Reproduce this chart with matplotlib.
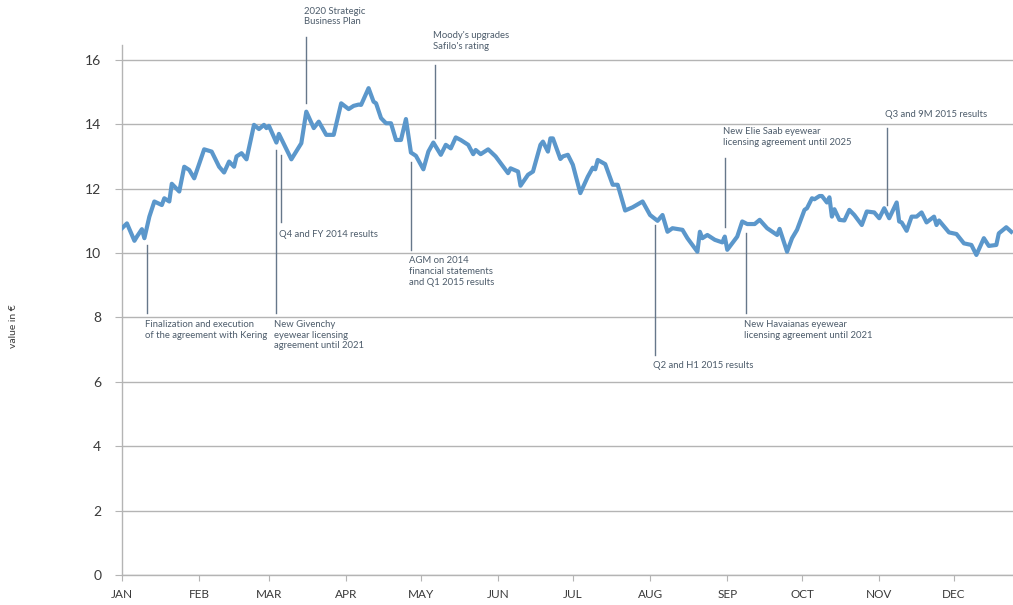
import numpy as np
import matplotlib
matplotlib.use("Agg")
import matplotlib.pyplot as plt

plt.rcParams["font.family"] = ["Lato", "DejaVu Sans"]

# 2015 share price, day of year -> value in EUR
days = [0, 2, 5, 6, 8, 9, 11, 13, 16, 17, 19, 20, 23, 25, 27, 29, 33, 36, 39, 41,
        43, 45, 46, 48, 50, 53, 55, 57, 58, 59, 62, 63, 68, 72, 74, 77, 79, 82, 85,
        88, 91, 93, 95, 96, 99, 101, 102, 104, 106, 108, 110, 112, 114, 116, 118,
        121, 123, 125, 128, 130, 132, 134, 136, 139, 141, 142, 144, 147, 150, 152,
        155, 156, 159, 160, 163, 165, 168, 169, 171, 172, 173, 176, 177, 179, 181,
        184, 187, 189, 190, 191, 194, 197, 199, 202, 205, 209, 212, 215, 217, 219,
        221, 225, 227, 231, 232, 233, 235, 238, 241, 242, 243, 247, 249, 251, 254,
        256, 259, 263, 264, 267, 269, 271, 274, 275, 277, 278, 280, 281, 283, 284,
        285, 286, 288, 290, 292, 294, 297, 299, 302, 304, 306, 308, 311, 312, 313,
        315, 317, 319, 321, 323, 326, 327, 328, 332, 335, 338, 341, 343, 346, 348,
        351, 352, 355, 357]
price = [10.77, 10.92, 10.38, 10.51, 10.74, 10.46, 11.13, 11.60, 11.49, 11.70,
         11.60, 12.15, 11.91, 12.68, 12.58, 12.32, 13.22, 13.15, 12.68, 12.50,
         12.84, 12.68, 13.00, 13.10, 12.91, 13.98, 13.85, 13.98, 13.88, 13.95,
         13.43, 13.70, 12.91, 13.41, 14.39, 13.88, 14.08, 13.67, 13.67,
         14.65, 14.47, 14.57, 14.61, 14.60, 15.12, 14.70, 14.65, 14.19, 14.03,
         14.03, 13.51, 13.51, 14.16, 13.12, 13.02,
         12.60, 13.15, 13.43, 13.05, 13.36, 13.25, 13.59, 13.51, 13.36, 13.07,
         13.20, 13.07, 13.22, 13.00, 12.79,
         12.48, 12.63, 12.53, 12.09, 12.43, 12.53, 13.36, 13.46, 13.15, 13.56,
         13.56, 12.92, 13.00, 13.05, 12.74,
         11.86, 12.37, 12.65, 12.60, 12.89, 12.76, 12.12, 12.12, 11.32, 11.42,
         11.60, 11.18, 11.00, 11.18, 10.66,
         10.77, 10.72, 10.46, 10.04, 10.66, 10.46, 10.56, 10.41, 10.33, 10.51,
         10.10, 10.51, 10.98, 10.90, 10.90,
         11.03, 10.77, 10.56, 10.75, 10.04, 10.46, 10.72, 11.34, 11.39, 11.70,
         11.67, 11.77, 11.77, 11.57, 11.73,
         11.13, 11.36, 11.03, 11.01, 11.34, 11.18, 10.87, 11.29, 11.26, 11.08,
         11.39, 11.08, 11.57, 10.98, 10.95,
         10.69, 11.13, 11.13, 11.26, 10.95, 11.13, 10.87, 11.01, 10.64, 10.59,
         10.30, 10.25, 9.94, 10.46, 10.22,
         10.25, 10.61, 10.80, 10.66]

months = ["JAN", "FEB", "MAR", "APR", "MAY", "JUN",
          "JUL", "AUG", "SEP", "OCT", "NOV", "DEC"]
month_len = [31, 28, 31, 30, 31, 30, 31, 31, 30, 31, 30, 31]
month_start = np.concatenate([[0], np.cumsum(month_len)[:-1]])

# events: day, text, leader from -> to (value axis), text anchor y, valign
events = [
    (10, "Finalization and execution\nof the agreement with Kering", 10.25, 8.14, 7.92, "top"),
    (62, "New Givenchy\neyewear licensing\nagreement until 2021", 13.2, 8.14, 7.92, "top"),
    (64, "Q4 and FY 2014 results", 13.05, 10.97, 10.59, "center"),
    (74, "2020 Strategic\nBusiness Plan", 14.66, 16.71, 17.65, "top"),
    (116, "AGM on 2014\nfinancial statements\nand Q1 2015 results", 12.83, 10.1, 9.9, "top"),
    (125.6, "Moody's upgrades\nSafilo's rating", 13.58, 15.84, 16.9, "top"),
    (214, "Q2 and H1 2015 results", 10.87, 6.83, 6.5, "center"),
    (242, "New Elie Saab eyewear\nlicensing agreement until 2025", 10.81, 12.95, 13.92, "top"),
    (250.5, "New Havaianas eyewear\nlicensing agreement until 2021", 10.62, 8.14, 7.92, "top"),
    (307, "Q3 and 9M 2015 results", 11.49, 13.89, 14.29, "center"),
]

grid_c = "#b4b4b4"
txt_c = "#4d5c6b"

fig = plt.figure(figsize=(10.13, 6.05), dpi=100)
ax = fig.add_axes([0.1204, 0.0496, 0.8796, 0.876])

ax.plot(days, price, color="#5b97cb", lw=3.0, solid_joinstyle="round", zorder=3)

for d, label, y0, y1, ty, va in events:
    ax.plot([d, d], [y0, y1], color="#66778a", lw=1.0, zorder=2, clip_on=False)
    ax.text(d - 0.8, ty, label, fontsize=6.8, color=txt_c, va=va, ha="left",
            linespacing=1.25, clip_on=False)

ax.set_xlim(0, 357.7)
ax.set_ylim(0, 16.46)
ax.set_yticks(range(0, 17, 2))
ax.set_xticks(month_start)
ax.set_xticklabels(months)
ax.grid(axis="y", color=grid_c, lw=1.0)
ax.set_axisbelow(True)

for s in ["top", "right"]:
    ax.spines[s].set_visible(False)
ax.spines["left"].set_color(grid_c)
ax.spines["bottom"].set_color(grid_c)
ax.spines["left"].set_linewidth(1.0)
ax.spines["bottom"].set_linewidth(1.0)

ax.tick_params(axis="y", length=5, color=grid_c, pad=10, labelsize=10, labelcolor="#3a3a3a")
ax.tick_params(axis="x", length=4, color=grid_c, pad=6, labelsize=8.5, labelcolor="#3a3a3a")

ax.set_ylabel("value in €", fontsize=7.5, color="#3a3a3a")
ax.yaxis.set_label_coords(-0.117, 0.47)

fig.savefig("out.png", dpi=100)
